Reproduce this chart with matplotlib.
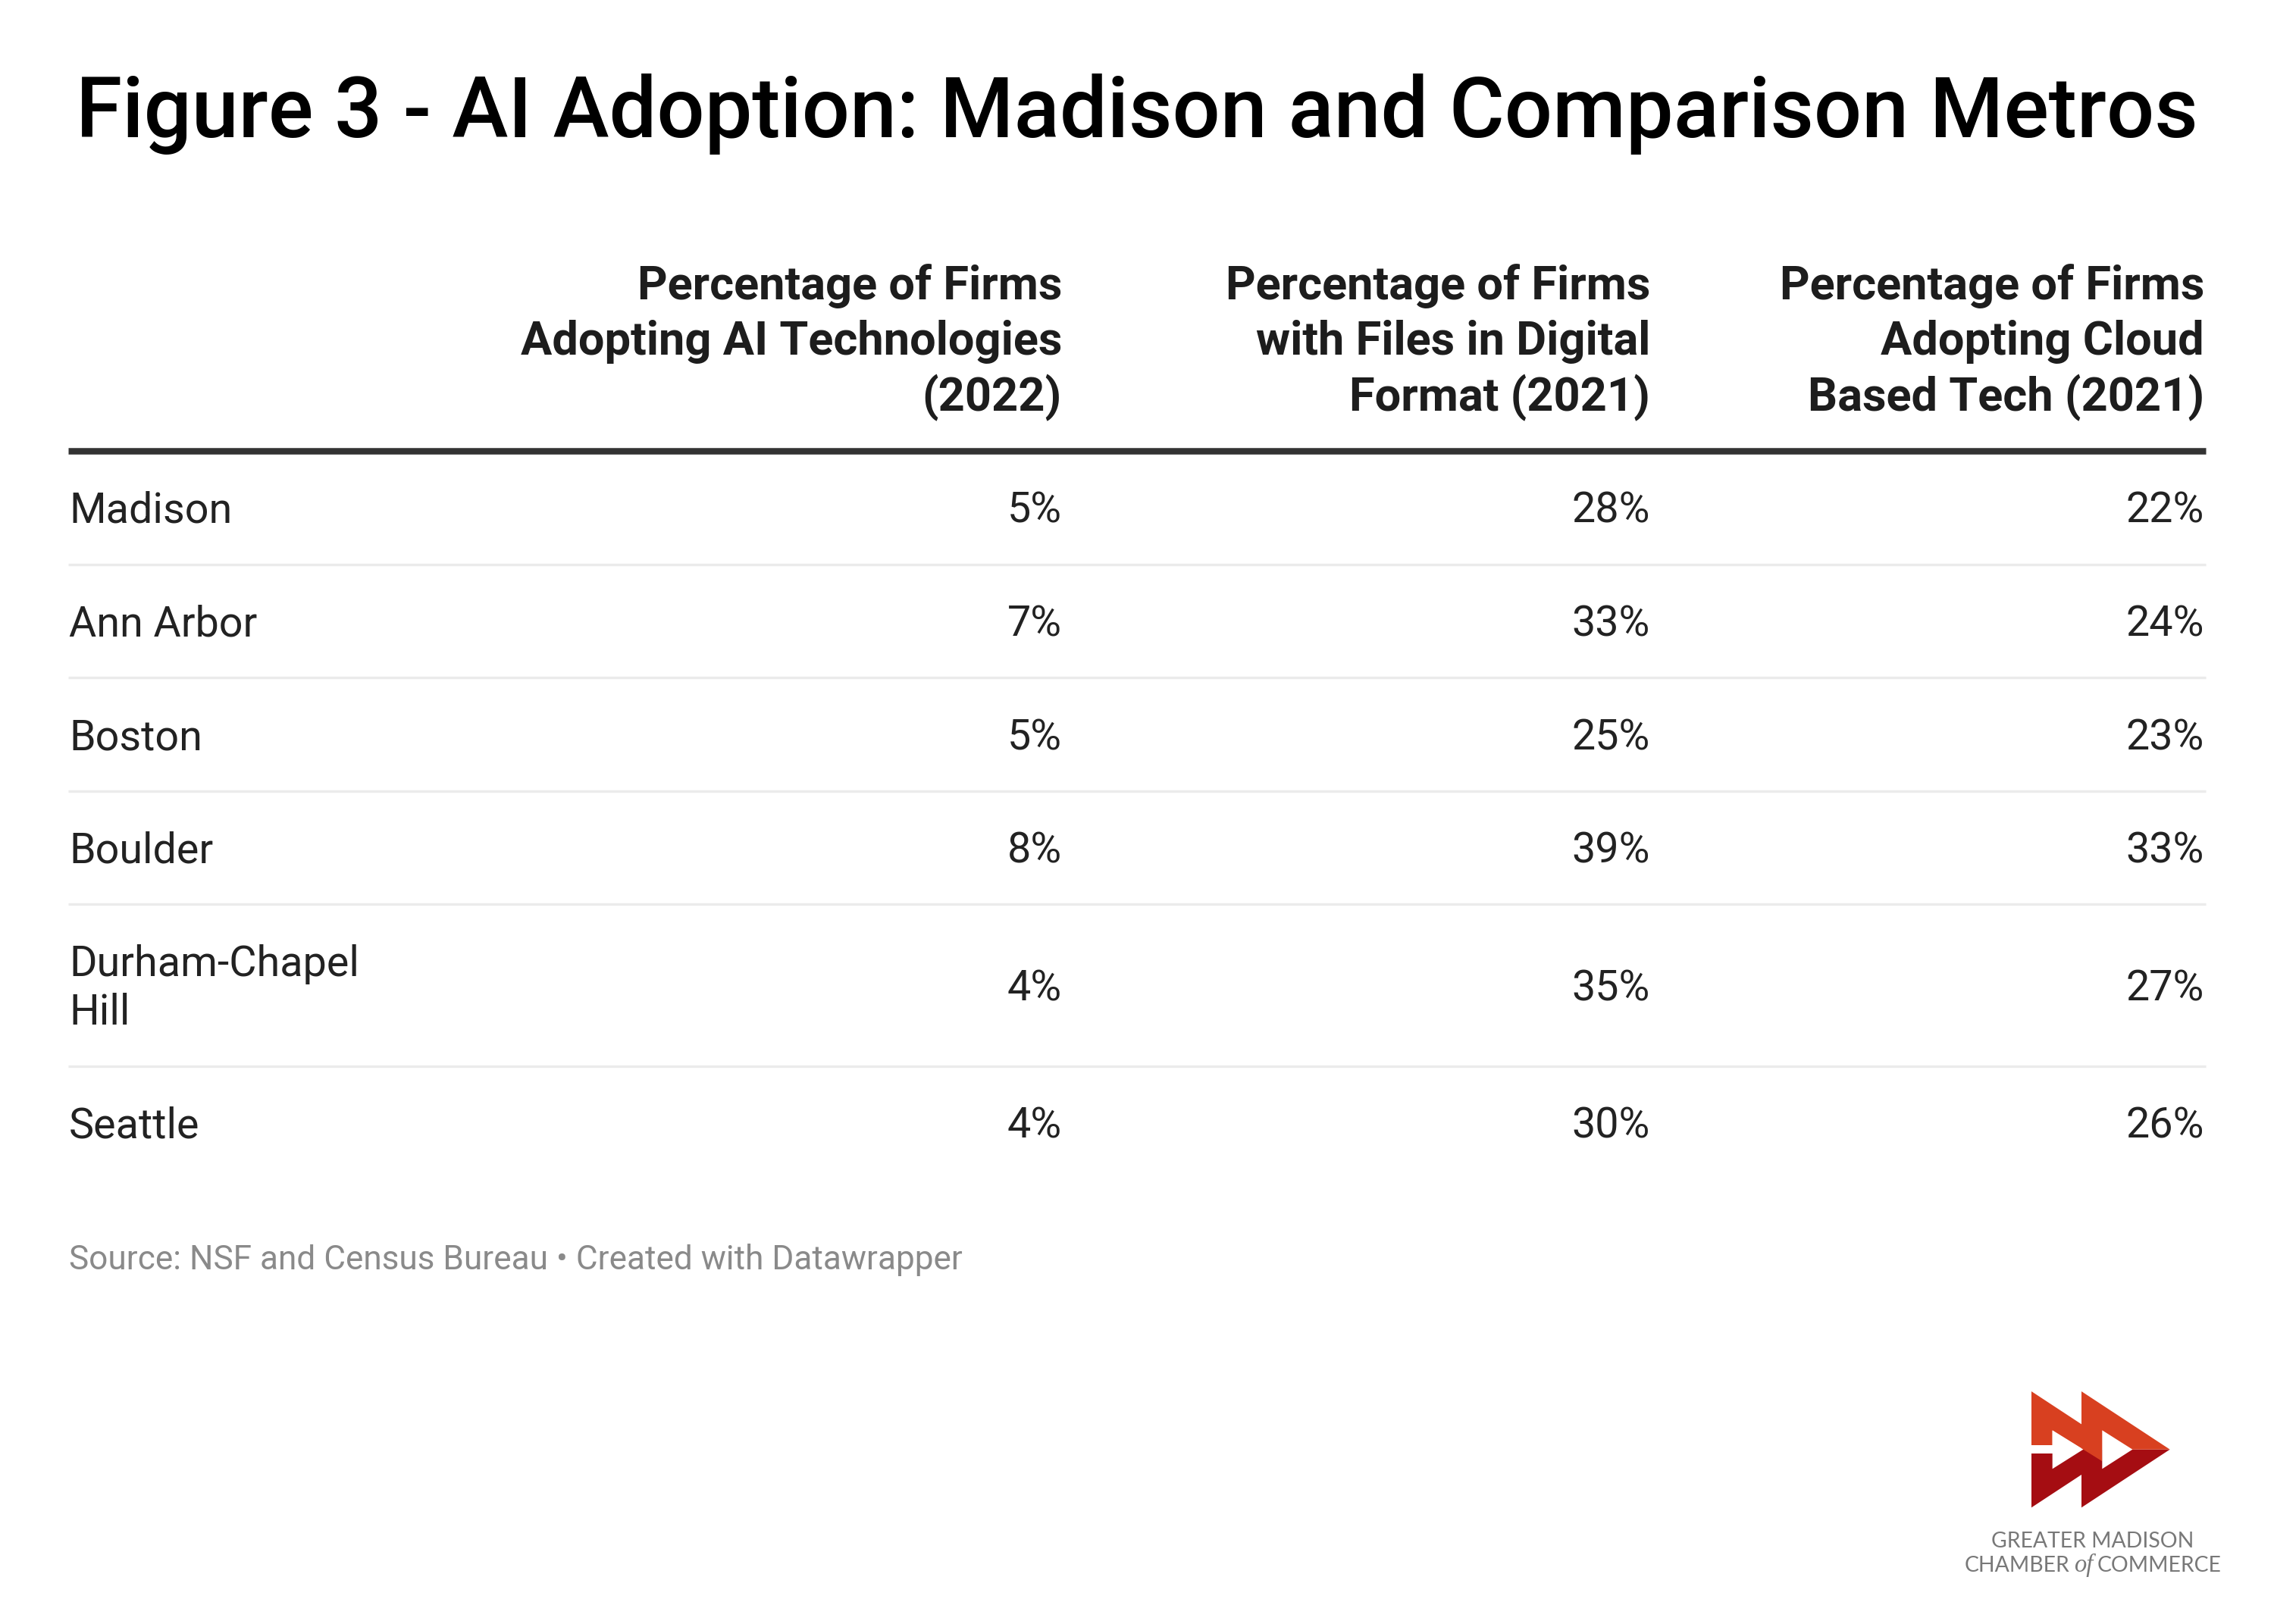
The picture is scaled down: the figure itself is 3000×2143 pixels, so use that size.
import matplotlib
matplotlib.use("Agg")
import matplotlib.pyplot as plt
from matplotlib.patches import Polygon, Rectangle

# ---------------- data ----------------
title = "Figure 3 - AI Adoption: Madison and Comparison Metros"
metros = ["Madison", "Ann Arbor", "Boston", "Boulder", "Durham-Chapel\nHill", "Seattle"]
ai_2022 = [5, 7, 5, 8, 4, 4]
digital_2021 = [28, 33, 25, 39, 35, 30]
cloud_2021 = [22, 24, 23, 33, 27, 26]
headers = ["Percentage of Firms\nAdopting AI Technologies\n(2022)",
           "Percentage of Firms\nwith Files in Digital\nFormat (2021)",
           "Percentage of Firms\nAdopting Cloud\nBased Tech (2021)"]
source = "Source: NSF and Census Bureau \u2022 Created with Datawrapper"
columns = [ai_2022, digital_2021, cloud_2021]

# ---------------- figure ----------------
W, H = 3000, 2143
fig = plt.figure(figsize=(W / 300, H / 300), dpi=300)
fig.patch.set_facecolor("white")
ax = fig.add_axes([0, 0, 1, 1])
ax.set_xlim(0, W)
ax.set_ylim(H, 0)
ax.axis("off")
renderer = fig.canvas.get_renderer()

FONT = "Roboto"


def fit_size(s, target_px, **kw):
    t = ax.text(0, 0, s, fontsize=10, **kw)
    w = t.get_window_extent(renderer=renderer).width
    t.remove()
    return 10 * target_px / w


# layout (pixels)
left_x = 90
right_x = 2910
col_right = [1401, 2177, 2908]
heavy_y = 595
row_h = 149.5
line_h = 64.4
first_off = 95

title_fs = fit_size(title, 2795, family=FONT, fontweight="medium")
head_fs = fit_size("Percentage of Firms", 560, family=FONT, fontweight="bold")
body_fs = fit_size("Durham-Chapel", 382, family=FONT)
src_fs = fit_size(source, 1178, family=FONT)

# title
ax.text(1500, 181, title, fontsize=title_fs, family=FONT, fontweight="medium",
        color="#000000", ha="center", va="baseline")

# headers
head_bottom = 542
head_step = 73.5
for xr, h in zip(col_right, headers):
    lines = h.split("\n")
    n = len(lines)
    for i, ln in enumerate(lines):
        y = head_bottom - (n - 1 - i) * head_step
        ax.text(xr, y, ln, fontsize=head_fs, family=FONT, fontweight="bold",
                color="#1d1d1d", ha="right", va="baseline")

# heavy rule
ax.plot([left_x, right_x], [heavy_y, heavy_y], color="#333333", lw=2.05,
        solid_capstyle="butt")

# rows
top = heavy_y
for r, name in enumerate(metros):
    lines = name.split("\n")
    n = len(lines)
    for i, ln in enumerate(lines):
        ax.text(left_x + 1, top + first_off + i * line_h, ln, fontsize=body_fs,
                family=FONT, color="#222222", ha="left", va="baseline")
    yv = top + first_off + (n - 1) * line_h / 2
    for xr, col in zip(col_right, columns):
        ax.text(xr, yv, f"{col[r]}%", fontsize=body_fs, family=FONT,
                color="#222222", ha="right", va="baseline")
    bottom = top + row_h + (n - 1) * line_h
    if r < len(metros) - 1:
        ax.plot([left_x, right_x], [bottom, bottom], color="#ebebeb", lw=0.8,
                solid_capstyle="butt")
    top = bottom

# source
ax.text(left_x + 1, 1675, source, fontsize=src_fs, family=FONT,
        color="#8a8a8a", ha="left", va="baseline")

# ---------------- logo ----------------
ox, oy = 2550, 1800


def P(pts):
    return [(ox + x / 3, oy + y / 3) for x, y in pts]


orange = "#d84020"
red = "#a50d12"
slope_o = (338 - 108) / (938 - 588)
slope_i = (338 - 262) / (595 - 473)
shapes = [
    (P([(390, 338), (740, 338), (390, 568)]), red),
    (P([(588, 338), (938, 338), (588, 568)]), red),
    (P([(588, 108), (938, 338), (588, 338)]), orange),
    (P([(390, 108), (670, 108 + slope_o * 280), (670, 262 + slope_i * 197),
        (473, 262), (473, 322), (390, 322)]), orange),
    (P([(473, 262 + 1), (473, 415), (595, 338)]), "white"),
    (P([(670, 262), (670, 415), (790, 338)]), "white"),
    (P([(388, 322), (475, 322), (475, 355), (388, 355)]), "white"),
]
for pts, c in shapes:
    ax.add_patch(Polygon(pts, closed=True, facecolor=c, edgecolor="none"))

logo_col = "#787878"
logo_font = "Lato"
lfs = fit_size("GREATER MADISON", 266, family=logo_font)
ax.text(2761, 2042.5, "GREATER MADISON", fontsize=lfs, family=logo_font,
        color=logo_col, ha="center", va="baseline")
ax.text(2592, 2074, "CHAMBER", fontsize=lfs, family=logo_font,
        color=logo_col, ha="left", va="baseline")
ax.text(2749, 2074, "of", fontsize=lfs * 1.15, family="Liberation Serif",
        style="italic", color=logo_col, ha="center", va="baseline")
ax.text(2931, 2074, "COMMERCE", fontsize=lfs, family=logo_font,
        color=logo_col, ha="right", va="baseline")

fig.savefig("out.png", dpi=300, facecolor="white")
